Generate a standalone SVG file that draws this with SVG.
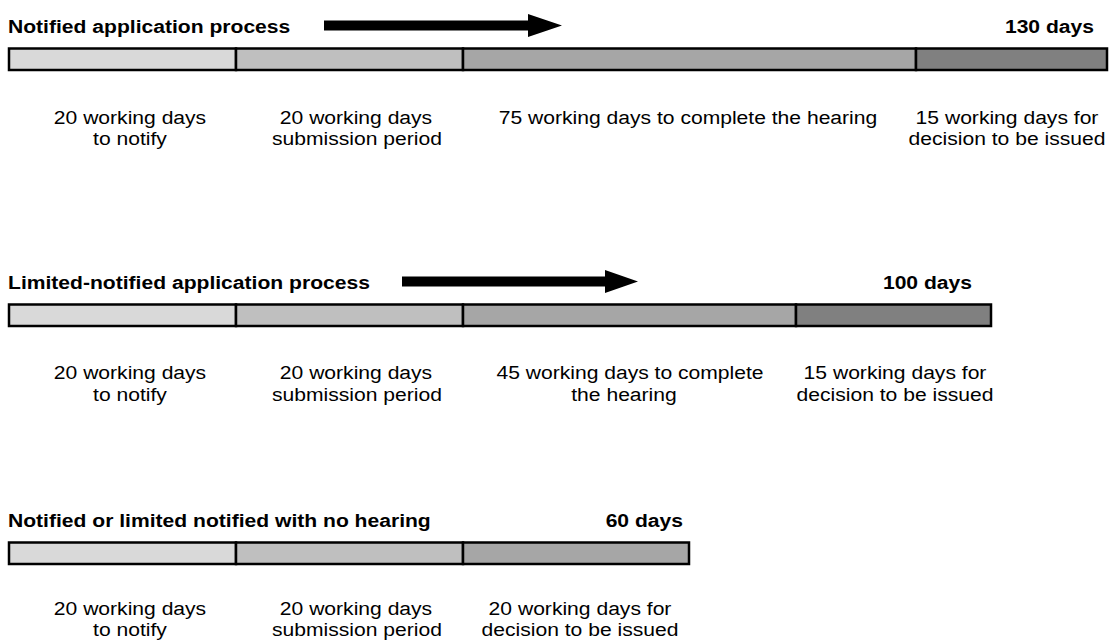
<svg xmlns="http://www.w3.org/2000/svg" width="1109" height="643" viewBox="0 0 1109 643">
<style>
text{font-family:"Liberation Sans",Arial,sans-serif;font-size:19px;fill:#000}
.t{font-weight:bold}
.c{text-anchor:middle}
.e{text-anchor:end}
.s{stroke:#000;stroke-width:2.5}
.f1{fill:#d9d9d9}.f2{fill:#bfbfbf}.f3{fill:#a6a6a6}.f4{fill:#808080}
</style>
<rect width="1109" height="643" fill="#fff"/>
<g id="row1">
  <text class="t" transform="translate(8,33) scale(1.11,1)">Notified application process</text>
  <text class="t e" transform="translate(1094,33) scale(1.11,1)">130 days</text>
  <polygon points="324,20.5 528,20.5 528,14 562,25.5 528,37 528,30.5 324,30.5" fill="#000"/>
  <g id="r1bar">
    <rect class="s f1" x="9" y="48.5" width="227" height="21.5"/>
    <rect class="s f2" x="236" y="48.5" width="227" height="21.5"/>
    <rect class="s f3" x="463" y="48.5" width="453" height="21.5"/>
    <rect class="s f4" x="916" y="48.5" width="191" height="21.5"/>
  </g>
  <text class="c" transform="translate(130,124) scale(1.11,1)">20 working days</text>
  <text class="c" transform="translate(130,145) scale(1.11,1)">to notify</text>
  <text class="c" transform="translate(356,124) scale(1.11,1)">20 working days</text>
  <text class="c" transform="translate(357,145) scale(1.11,1)">submission period</text>
  <text class="c" transform="translate(688,124) scale(1.11,1)">75 working days to complete the hearing</text>
  <text class="c" transform="translate(1007,124) scale(1.11,1)">15 working days for</text>
  <text class="c" transform="translate(1007,145) scale(1.11,1)">decision to be issued</text>
</g>
<g id="row2" transform="translate(0,256)">
  <text class="t" transform="translate(8,33) scale(1.11,1)">Limited-notified application process</text>
  <text class="t e" transform="translate(972,33) scale(1.11,1)">100 days</text>
  <polygon points="402,20.5 605,20.5 605,14 638,25.5 605,37 605,30.5 402,30.5" fill="#000"/>
  <g id="r2bar">
    <rect class="s f1" x="9" y="48.5" width="227" height="21.5"/>
    <rect class="s f2" x="236" y="48.5" width="227" height="21.5"/>
    <rect class="s f3" x="463" y="48.5" width="333" height="21.5"/>
    <rect class="s f4" x="796" y="48.5" width="195" height="21.5"/>
  </g>
  <text class="c" transform="translate(130,123) scale(1.11,1)">20 working days</text>
  <text class="c" transform="translate(130,145) scale(1.11,1)">to notify</text>
  <text class="c" transform="translate(356,123) scale(1.11,1)">20 working days</text>
  <text class="c" transform="translate(357,145) scale(1.11,1)">submission period</text>
  <text class="c" transform="translate(630,123) scale(1.11,1)">45 working days to complete</text>
  <text class="c" transform="translate(624,145) scale(1.11,1)">the hearing</text>
  <text class="c" transform="translate(895,123) scale(1.11,1)">15 working days for</text>
  <text class="c" transform="translate(895,145) scale(1.11,1)">decision to be issued</text>
</g>
<g id="row3" transform="translate(0,494)">
  <text class="t" transform="translate(8,33) scale(1.11,1)">Notified or limited notified with no hearing</text>
  <text class="t e" transform="translate(683,33) scale(1.11,1)">60 days</text>
  <g id="r3bar">
    <rect class="s f1" x="9" y="48.5" width="227" height="21.5"/>
    <rect class="s f2" x="236" y="48.5" width="227" height="21.5"/>
    <rect class="s f3" x="463" y="48.5" width="226" height="21.5"/>
  </g>
  <text class="c" transform="translate(130,121) scale(1.11,1)">20 working days</text>
  <text class="c" transform="translate(130,142) scale(1.11,1)">to notify</text>
  <text class="c" transform="translate(356,121) scale(1.11,1)">20 working days</text>
  <text class="c" transform="translate(357,142) scale(1.11,1)">submission period</text>
  <text class="c" transform="translate(580,121) scale(1.11,1)">20 working days for</text>
  <text class="c" transform="translate(580,142) scale(1.11,1)">decision to be issued</text>
</g>
</svg>
